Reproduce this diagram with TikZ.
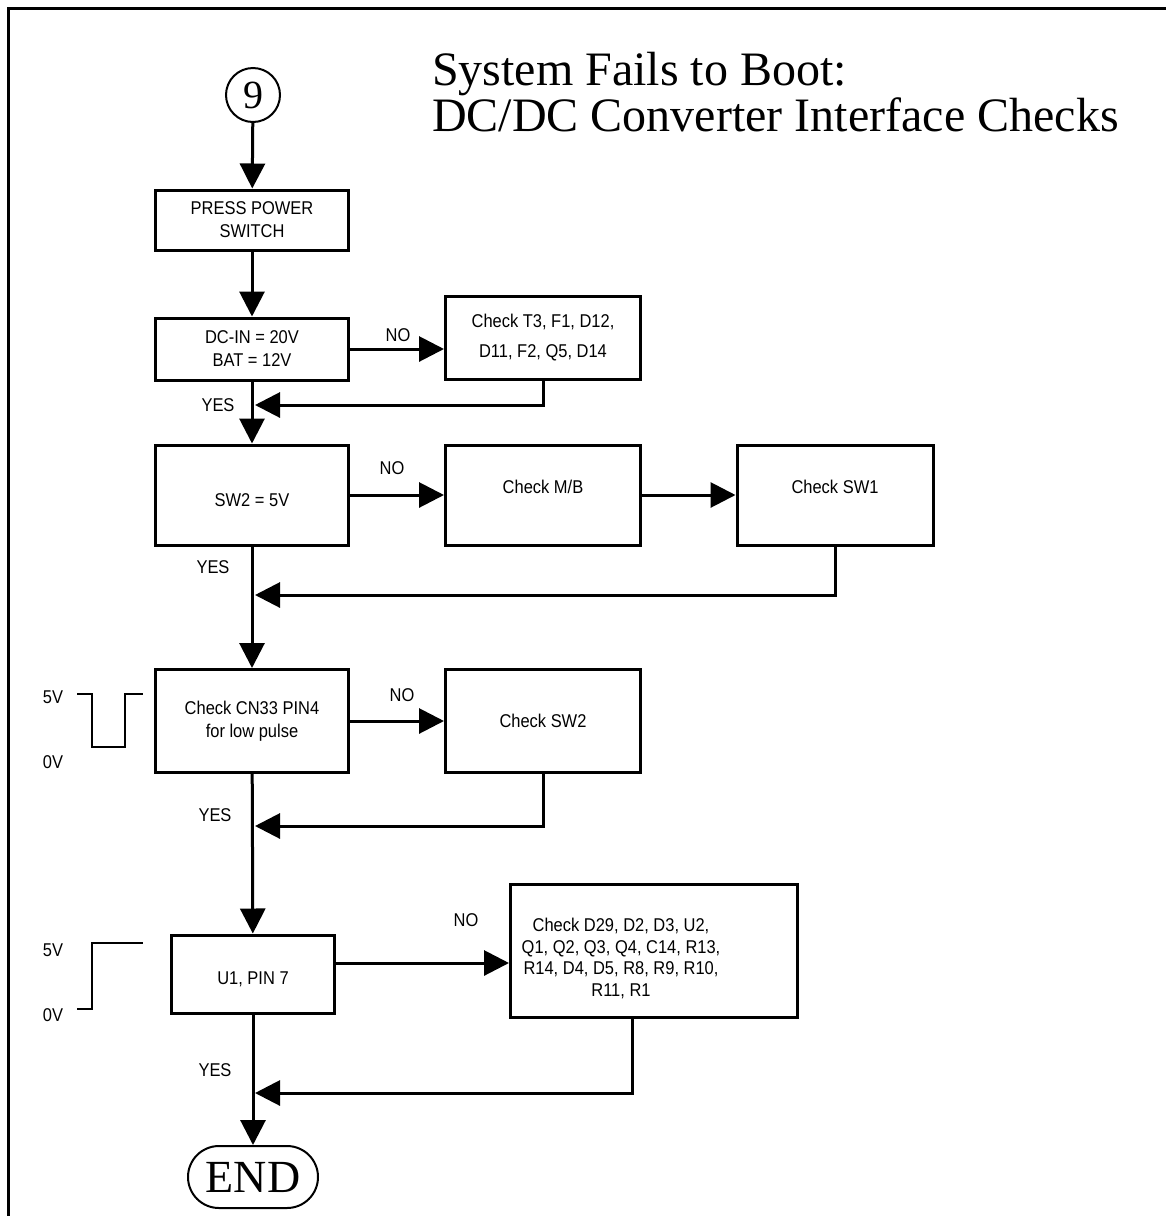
\documentclass[tikz,border=0pt]{standalone}
\usepackage{fontspec}
\setmainfont{Liberation Serif}
\setsansfont{Liberation Sans}[FakeStretch=0.89]
\usetikzlibrary{arrows.meta,shapes.misc}

\tikzset{
	box/.style={draw, rectangle, line width=3pt, inner sep=0pt, align=center,
		font=\sffamily\fontsize{18.5}{23}\selectfont},
	arr/.style={line width=3pt, -{Triangle[length=25pt,width=25pt]}},
	lbl/.style={inner sep=0pt, font=\sffamily\fontsize{18.5}{20}\selectfont},
	wave/.style={line width=2.5pt},
}

\begin{document}
\begin{tikzpicture}[x=1pt,y=-1pt]
		\useasboundingbox (0,0) rectangle (1166,1216);
		\draw[line width=3pt] (8,1216) -- (8,8) -- (1166,8);
		
		\node[anchor=base west, inner sep=0pt, font=\fontsize{48}{50}\selectfont] (title1) at (432,85) {System Fails to Boot:};
		\node[anchor=base west, inner sep=0pt, font=\fontsize{48}{50}\selectfont] (title2) at (432,131) {DC/DC Converter Interface Checks};
		
		\node (n9) at (253,95) [circle, draw, line width=2pt, minimum size=54pt, inner sep=0pt, font=\fontsize{40}{40}\selectfont] {9};
		\node (press) at (252,220) [box, minimum width=193pt, minimum height=60pt] {PRESS POWER\\SWITCH};
		\node (dcin) at (252,349) [box, minimum width=193pt, minimum height=62pt] {DC-IN = 20V\\BAT = 12V};
		\node (chkT3) at (543,338) [box, minimum width=195pt, minimum height=83pt] {Check T3, F1, D12,\\[7pt]D11, F2, Q5, D14};
		\node (sw2) at (252,495) [box, minimum width=193pt, minimum height=100pt, text height=22pt, text depth=0pt] {SW2 = 5V};
		\node (chkMB) at (543,495) [box, minimum width=195pt, minimum height=100pt, text height=12pt, text depth=16pt] {Check M/B};
		\node (chkSW1) at (835,495) [box, minimum width=196pt, minimum height=100pt, text height=12pt, text depth=16pt] {Check SW1};
		\node (cn33) at (252,721) [box, minimum width=193pt, minimum height=103pt] {Check CN33 PIN4\\for low pulse};
		\node (chkSW2) at (543,721) [box, minimum width=195pt, minimum height=103pt] {Check SW2};
		\node (u1) at (253,974) [box, minimum width=163pt, minimum height=78pt, text height=20pt, text depth=0pt] {U1, PIN 7};
		\node (chkD29) at (654,951) [box, minimum width=287pt, minimum height=133pt, text height=26pt, text depth=0pt, font=\sffamily\fontsize{18.5}{21.5}\selectfont]
			{\begin{tabular}{@{}c@{}}Check D29, D2, D3, U2,\\Q1, Q2, Q3, Q4, C14, R13,\\R14, D4, D5, R8, R9, R10,\\R11, R1\end{tabular}\hspace{66pt}};
		\node (endnode) at (253,1177) [rounded rectangle, draw, line width=2pt, minimum width=130pt, minimum height=62pt, inner sep=0pt, font=\fontsize{46}{46}\selectfont] {END};
		
		\node (no1) at (398,335) [lbl] {NO};
		\node (no2) at (392,468) [lbl] {NO};
		\node (no3) at (402,695) [lbl] {NO};
		\node (no4) at (466,920) [lbl] {NO};
		\node (yes1) at (218,405) [lbl] {YES};
		\node (yes2) at (213,567) [lbl] {YES};
		\node (yes3) at (215,815) [lbl] {YES};
		\node (yes4) at (215,1070) [lbl] {YES};
		
		\coordinate (j1) at (255,405);
		\coordinate (j2) at (255,595);
		\coordinate (j3) at (255,826);
		\coordinate (j4) at (255,1093);
		
		\draw[arr] (n9) -- (press);
		\draw[arr] (press) -- (dcin);
		\draw[arr] (dcin) -- (sw2);
		\draw[arr] (sw2) -- (cn33);
		\draw[arr] (cn33) -- (u1);
		\draw[arr] (u1) -- (endnode);
		
		\draw[arr] (dcin.east) -- (dcin.east -| chkT3.west);
		\draw[arr] (sw2) -- (chkMB);
		\draw[arr] (chkMB) -- (chkSW1);
		\draw[arr] (cn33) -- (chkSW2);
		\draw[arr] ([yshift=11pt]u1.east) -- ([yshift=11pt]u1.east -| chkD29.west);
		
		\draw[arr] (chkT3.south) |- (j1);
		\draw[arr] (chkSW1.south) |- (j2);
		\draw[arr] (chkSW2.south) |- (j3);
		\draw[arr] ([xshift=-22pt]chkD29.south) |- (j4);
		
		\node (hi1) at (53,697) [lbl] {5V};
		\node (lo1) at (53,762) [lbl] {0V};
		\draw[wave] (77,694) -- (92,694) -- (92,747) -- (125,747) -- (125,694) -- (143,694);
		\node (hi2) at (53,950) [lbl] {5V};
		\node (lo2) at (53,1015) [lbl] {0V};
		\draw[wave] (77,1009) -- (92,1009) -- (92,943) -- (143,943);
		
	\end{tikzpicture}
\end{document}
